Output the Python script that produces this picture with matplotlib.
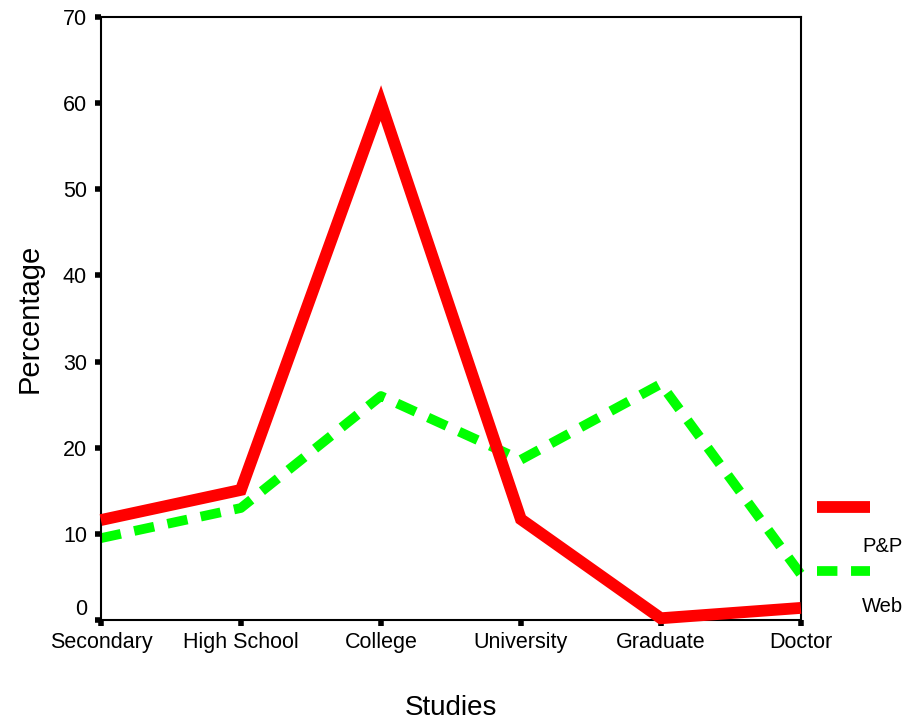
import numpy as np
import matplotlib.pyplot as plt
from matplotlib.lines import Line2D

plt.rcParams['font.family'] = ['Liberation Sans', 'DejaVu Sans']

studies = ['Secondary', 'High School', 'College', 'University', 'Graduate', 'Doctor']
pp = [11.6, 15.1, 60.0, 11.7, 0.2, 1.4]     # P&P
web = [9.5, 13.0, 26.0, 18.6, 27.4, 5.3]    # Web
yticks = [0, 10, 20, 30, 40, 50, 60, 70]

fig = plt.figure(figsize=(9.09, 7.23), dpi=100, facecolor='white')
ax = fig.add_axes([0.111, 0.1425, 0.770, 0.834])

x = np.arange(len(studies))
ax.plot(x, pp, color='#ff0000', lw=8.5, solid_joinstyle='miter', solid_capstyle='butt',
        clip_on=False, zorder=3)
ax.plot(x, web, color='#00ff00', lw=7, dashes=(2.1, 1.4), dash_capstyle='butt', clip_on=False, zorder=2)

ax.set_xlim(0, 5)
ax.set_ylim(0, 70)
ax.set_xticks(x)
ax.set_xticklabels(studies, fontsize=15.5)
ax.set_yticks(yticks)
ax.set_yticklabels([str(v) for v in yticks], fontsize=15.5)
ax.tick_params(direction='out', length=4, width=4, pad=6)
ax.tick_params(axis='x', pad=5)
ax.get_yticklabels()[0].set_va('bottom')

for s in ax.spines.values():
    s.set_linewidth(1.5)

ax.set_ylabel('Percentage', fontsize=21, labelpad=14)
ax.set_xlabel('Studies', fontsize=20, labelpad=30)

# legend, drawn in figure coords
fig.add_artist(Line2D([817/909, 870/909], [1-507/723, 1-507/723], color='#ff0000', lw=8.5,
                      solid_capstyle='butt'))
fig.text(862/909, 1-547/723, 'P&P', fontsize=14.5, va='center')
fig.add_artist(Line2D([817/909, 870/909], [1-571/723, 1-571/723], color='#00ff00', lw=7,
                      dashes=(2.1, 1.4), dash_capstyle='butt'))
fig.text(862/909, 1-607/723, 'Web', fontsize=14.5, va='center')

fig.savefig('out.png', dpi=100, facecolor='white')
